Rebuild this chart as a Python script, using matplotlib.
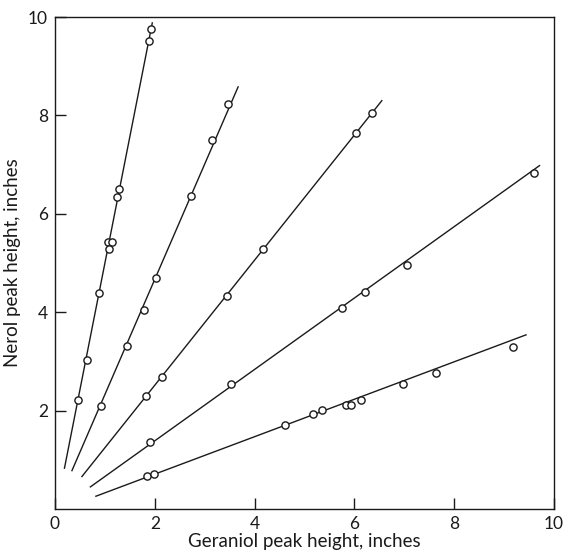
import matplotlib
matplotlib.use("Agg")
import matplotlib.pyplot as plt

plt.rcParams["font.family"] = ["Lato", "DejaVu Sans"]

# measured points, one list per series (geraniol x, nerol y)
s1_x = [0.47, 0.64, 0.89, 1.06, 1.15, 1.09, 1.25, 1.28, 1.88, 1.92]
s1_y = [2.22, 3.03, 4.40, 5.43, 5.43, 5.28, 6.35, 6.50, 9.51, 9.76]
s2_x = [0.92, 1.44, 1.79, 2.02, 2.73, 3.14, 3.47]
s2_y = [2.09, 3.32, 4.04, 4.69, 6.37, 7.51, 8.23]
s3_x = [1.82, 2.15, 3.44, 4.17, 6.03, 6.35]
s3_y = [2.30, 2.69, 4.32, 5.28, 7.64, 8.04]
s4_x = [1.90, 3.53, 5.76, 6.21, 7.05, 9.59]
s4_y = [1.36, 2.54, 4.08, 4.42, 4.96, 6.82]
s5_x = [1.85, 1.99, 4.61, 5.18, 5.36, 5.83, 5.93, 6.13, 6.97, 7.63, 9.17]
s5_y = [0.68, 0.72, 1.71, 1.93, 2.01, 2.12, 2.11, 2.22, 2.54, 2.76, 3.30]

# fitted line end points
fit_x = [(0.19, 1.95), (0.34, 3.67), (0.54, 6.55), (0.71, 9.71), (0.82, 9.44)]
fit_y = [(0.83, 9.88), (0.78, 8.58), (0.66, 8.30), (0.45, 6.98), (0.26, 3.54)]

xticks = [0, 2, 4, 6, 8, 10]
yticks = [2, 4, 6, 8, 10]

fig = plt.figure(figsize=(5.65, 5.56), dpi=100)
ax = fig.add_axes([0.0973, 0.0845, 0.8832, 0.8849])

for (x0, x1), (y0, y1) in zip(fit_x, fit_y):
    ax.plot([x0, x1], [y0, y1], color="#1a1a1a", lw=1.0, zorder=2)

for xs, ys in [(s1_x, s1_y), (s2_x, s2_y), (s3_x, s3_y), (s4_x, s4_y), (s5_x, s5_y)]:
    ax.plot(xs, ys, ls="none", marker="o", ms=5.2, mfc="white",
            mec="#1a1a1a", mew=1.0, zorder=3)

ax.set_xlim(0, 10)
ax.set_ylim(0, 10)
ax.set_xticks(xticks)
ax.set_yticks(yticks)
ax.tick_params(direction="in", length=8, width=1.0, labelsize=12.5,
               colors="#1a1a1a", pad=5)
for sp in ax.spines.values():
    sp.set_linewidth(1.0)
    sp.set_color("#1a1a1a")

ax.set_xlabel("Geraniol peak height, inches", fontsize=13.5, color="#1a1a1a", labelpad=1)
ax.set_ylabel("Nerol peak height, inches", fontsize=13.5, color="#1a1a1a", labelpad=5)

fig.savefig("out.png", dpi=100)
